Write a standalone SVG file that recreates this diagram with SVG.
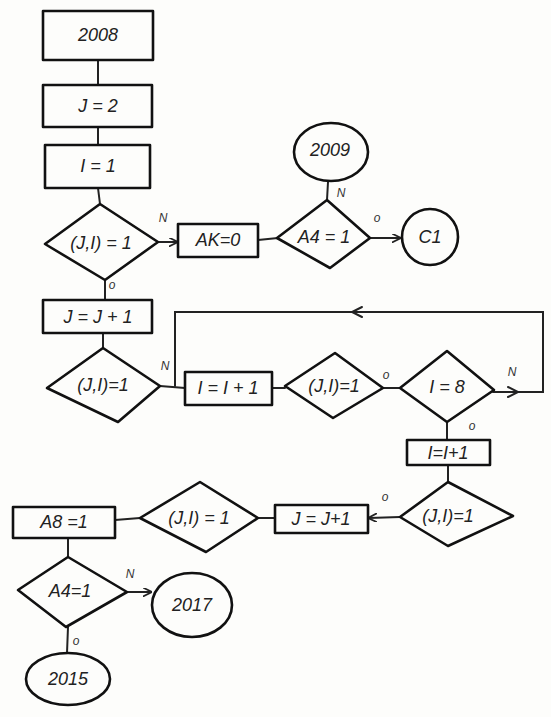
<svg xmlns="http://www.w3.org/2000/svg" width="551" height="717" viewBox="0 0 551 717">
<defs>
<style>
.s{fill:none;stroke:#111;stroke-width:2.6;stroke-linejoin:round}
.c{fill:none;stroke:#222;stroke-width:2;stroke-linecap:round}
.t{font-family:"Liberation Sans",Arial,sans-serif;font-style:italic;font-size:18px;fill:#222;text-anchor:middle;dominant-baseline:central}
.l{font-family:"Liberation Sans",Arial,sans-serif;font-style:italic;font-size:12px;fill:#333;text-anchor:middle;dominant-baseline:central}
</style>
<marker id="a" viewBox="0 0 10 10" refX="9" refY="5" markerWidth="9" markerHeight="9" markerUnits="userSpaceOnUse" orient="auto">
<path d="M0,0 L10,5 L0,10" fill="none" stroke="#222" stroke-width="2"/>
</marker>
</defs>
<rect width="551" height="717" fill="#fdfdfb"/>
<g id="connectors">
<line class="c" x1="98" y1="60" x2="98" y2="85"/>
<line class="c" x1="98" y1="127" x2="98" y2="145"/>
<line class="c" x1="98" y1="188" x2="100" y2="204"/>
<line class="c" x1="158" y1="242" x2="177" y2="242" marker-end="url(#a)"/>
<line class="c" x1="258" y1="240" x2="278" y2="238"/>
<line class="c" x1="327" y1="200" x2="328" y2="182"/>
<line class="c" x1="370" y1="238" x2="400" y2="238" marker-end="url(#a)"/>
<line class="c" x1="105" y1="280" x2="105" y2="300"/>
<line class="c" x1="103" y1="333" x2="103" y2="348"/>
<line class="c" x1="160" y1="386" x2="185" y2="388"/>
<polyline class="c" points="175,386 175,312 543,312 543,392 493,392"/>
<polyline class="c" points="362,307 352,312 362,317"/>
<polyline class="c" points="508,387 518,392 508,397"/>
<line class="c" x1="272" y1="388" x2="285" y2="388"/>
<line class="c" x1="383" y1="388" x2="400" y2="388"/>
<line class="c" x1="447" y1="422" x2="447" y2="440"/>
<line class="c" x1="448" y1="465" x2="448" y2="482"/>
<line class="c" x1="400" y1="517" x2="369" y2="518" marker-end="url(#a)"/>
<line class="c" x1="275" y1="518" x2="258" y2="518"/>
<line class="c" x1="140" y1="518" x2="115" y2="520"/>
<line class="c" x1="68" y1="538" x2="68" y2="557"/>
<line class="c" x1="127" y1="592" x2="151" y2="592" marker-end="url(#a)"/>
<line class="c" x1="68" y1="627" x2="67" y2="653"/>
</g>
<g id="labels">
<text class="l" x="163" y="218">N</text>
<text class="l" x="341" y="193">N</text>
<text class="l" x="377" y="218">o</text>
<text class="l" x="112" y="285">o</text>
<text class="l" x="165" y="366">N</text>
<text class="l" x="386" y="375">o</text>
<text class="l" x="512" y="372">N</text>
<text class="l" x="472" y="426">o</text>
<text class="l" x="385" y="497">o</text>
<text class="l" x="130" y="574">N</text>
<text class="l" x="76" y="641">o</text>
</g>
<g id="n2008"><rect class="s" x="43" y="11" width="110" height="49"/><text class="t" x="98" y="35">2008</text></g>
<g id="nJ2"><rect class="s" x="43" y="85" width="109" height="42"/><text class="t" x="98" y="106">J = 2</text></g>
<g id="nI1"><rect class="s" x="45" y="145" width="105" height="43"/><text class="t" x="98" y="166">I = 1</text></g>
<g id="d1"><polygon class="s" points="100,204 158,242 105,280 45,244"/><text class="t" x="101" y="243">(J,I) = 1</text></g>
<g id="nAK"><rect class="s" x="178" y="224" width="80" height="33"/><text class="t" x="218" y="240">AK=0</text></g>
<g id="d2"><polygon class="s" points="327,200 370,238 330,268 277,238"/><text class="t" x="324" y="237">A4 = 1</text></g>
<g id="c2009"><ellipse class="s" cx="331" cy="152" rx="37" ry="29"/><text class="t" x="330" y="150">2009</text></g>
<g id="cC1"><ellipse class="s" cx="430" cy="237" rx="28" ry="28"/><text class="t" x="430" y="237">C1</text></g>
<g id="nJJ"><rect class="s" x="43" y="300" width="109" height="33"/><text class="t" x="98" y="317">J = J + 1</text></g>
<g id="d3"><polygon class="s" points="103,348 160,386 118,422 47,388"/><text class="t" x="103" y="385">(J,I)=1</text></g>
<g id="nII"><rect class="s" x="185" y="372" width="87" height="33"/><text class="t" x="228" y="388">I = I + 1</text></g>
<g id="d4"><polygon class="s" points="335,353 383,388 333,418 285,386"/><text class="t" x="334" y="386">(J,I)=1</text></g>
<g id="d5"><polygon class="s" points="447,351 494,390 447,422 400,388"/><text class="t" x="447" y="387">I = 8</text></g>
<g id="nII2"><rect class="s" x="407" y="440" width="83" height="25"/><text class="t" x="448" y="453">I=I+1</text></g>
<g id="d6"><polygon class="s" points="448,482 513,516 448,546 400,517"/><text class="t" x="448" y="516">(J,I)=1</text></g>
<g id="nJJ2"><rect class="s" x="275" y="505" width="93" height="28"/><text class="t" x="321" y="519">J = J+1</text></g>
<g id="d7"><polygon class="s" points="200,482 258,518 206,552 140,518"/><text class="t" x="199" y="518">(J,I) = 1</text></g>
<g id="nA8"><rect class="s" x="13" y="507" width="102" height="31"/><text class="t" x="64" y="522">A8 =1</text></g>
<g id="d8"><polygon class="s" points="68,557 127,592 66,627 18,590"/><text class="t" x="70" y="591">A4=1</text></g>
<g id="c2017"><ellipse class="s" cx="192" cy="605" rx="40" ry="32"/><text class="t" x="192" y="605">2017</text></g>
<g id="c2015"><ellipse class="s" cx="68" cy="679" rx="42" ry="26"/><text class="t" x="68" y="679">2015</text></g>
</svg>
